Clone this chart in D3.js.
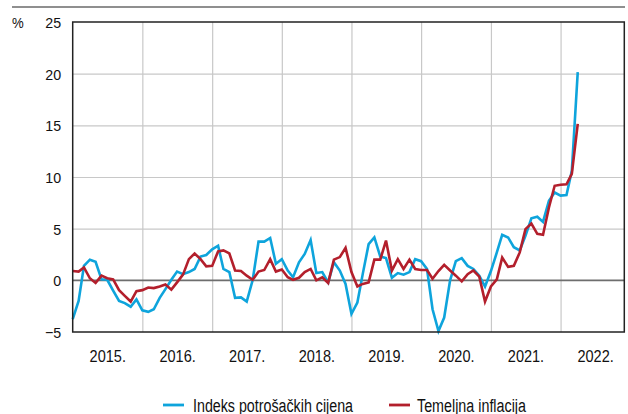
<!DOCTYPE html>
<html>
<head>
<meta charset="utf-8">
<script src="https://cdn.jsdelivr.net/npm/d3@7"></script>
<style>
    body { margin: 0; background: #fff; }
    #chart-area { width: 628px; height: 414px; }
    text { font-family: "Liberation Sans", Arial, sans-serif; fill: #111; }
</style>
</head>
<body>
<div id="chart-area"></div>
<script>

// first month of both series
let startMonth = new Date(2015, 0, 1);

// Indeks potrošačkih cijena, monthly, Jan 2015 - Apr 2022
let cpiValues = [
    -3.75, -2.0, 1.4, 2.0, 1.8, 0.1, 0.05, -1.0, -2.0, -2.2, -2.55, -1.85,
    -2.9, -3.05, -2.8, -1.7, -0.85, 0.05, 0.85, 0.6, 0.8, 1.1, 2.3, 2.45,
    3.0, 3.35, 1.1, 0.8, -1.7, -1.65, -2.05, 0.0, 3.75, 3.75, 4.1, 1.6,
    2.05, 0.95, 0.3, 1.75, 2.55, 3.9, 0.7, 0.8, -0.2, 1.75, 0.95, -0.35,
    -3.25, -2.15, 0.6, 3.5, 4.15, 2.3, 2.15, 0.25, 0.7, 0.55, 0.8, 2.05,
    1.85, 1.1, -2.8, -4.9, -3.6, 0.0, 1.85, 2.15, 1.4, 1.1, 0.45, -0.6,
    0.9, 2.7, 4.4, 4.15, 3.2, 2.9, 4.3, 6.0, 6.15, 5.65, 7.7, 8.5,
    8.2, 8.25, 10.6, 20.15
];

// Temeljna inflacija, monthly, Jan 2015 - Apr 2022
let coreValues = [
    0.9, 0.85, 1.25, 0.2, -0.25, 0.45, 0.2, 0.1, -0.95, -1.5, -2.05, -1.05,
    -0.95, -0.7, -0.75, -0.6, -0.4, -0.9, -0.2, 0.55, 2.05, 2.6, 2.05, 1.35,
    1.4, 2.8, 2.9, 2.6, 0.95, 0.9, 0.45, 0.05, 0.85, 1.0, 2.05, 0.85,
    1.05, 0.3, 0.05, 0.25, 0.8, 1.1, 0.0, 0.3, -0.25, 2.0, 2.25, 3.15,
    0.8, -0.6, -0.35, -0.2, 2.0, 2.0, 3.85, 0.95, 2.05, 1.1, 2.0, 1.1,
    1.0, 1.0, 0.15, 0.9, 1.5, 0.95, 0.45, -0.1, 0.6, 0.95, 0.35, -2.05,
    -0.6, 0.1, 2.2, 1.3, 1.4, 2.7, 4.95, 5.5, 4.5, 4.4, 7.05, 9.15,
    9.25, 9.3, 10.3, 15.15
];

let years = [2015, 2016, 2017, 2018, 2019, 2020, 2021, 2022];
let yTicks = [-5, 0, 5, 10, 15, 20, 25];
let seriesNames = ["Indeks potrošačkih cijena", "Temeljna inflacija"];
let seriesColors = ["#0ea4dc", "#b31f2c"];


// squeeze text horizontally, the original uses a condensed face
function condense(selection, factor) {
    selection.each(function() {
        let len = this.getComputedTextLength();
        d3.select(this)
            .attr("textLength", len * factor)
            .attr("lengthAdjust", "spacingAndGlyphs");
    });
}


class LineVis {

    constructor(parentElement) {
        this.parentElement = parentElement;
        this.initVis();
    }

    initVis() {
        let vis = this;

        vis.margin = {top: 22, right: 3.7, bottom: 82, left: 72.7};
        vis.width = 628 - vis.margin.left - vis.margin.right;
        vis.height = 414 - vis.margin.top - vis.margin.bottom;

        vis.root = d3.select("#" + vis.parentElement).append("svg")
            .attr("width", 628)
            .attr("height", 414);

        // thin rule on top of the figure
        vis.root.append("line")
            .attr("x1", 12).attr("x2", 625)
            .attr("y1", 7).attr("y2", 7)
            .attr("stroke", "#6a6a6a")
            .attr("stroke-width", 1.3);

        vis.svg = vis.root.append("g")
            .attr("transform", `translate(${vis.margin.left}, ${vis.margin.top})`);

        // scales
        vis.x = d3.scaleTime()
            .domain([new Date(2015, 0, 1), new Date(2022, 11, 1)])
            .range([0, vis.width]);

        vis.y = d3.scaleLinear()
            .domain([-5, 25])
            .range([vis.height, 0]);

        vis.wrangleData();
    }

    wrangleData() {
        let vis = this;

        vis.series = [cpiValues, coreValues].map((values, k) => ({
            name: seriesNames[k],
            color: seriesColors[k],
            values: values.map((v, i) => ({date: d3.timeMonth.offset(startMonth, i), value: v}))
        }));

        vis.updateVis();
    }

    updateVis() {
        let vis = this;

        // horizontal grid
        vis.svg.append("g")
            .attr("class", "grid y-grid")
            .call(d3.axisLeft(vis.y).tickValues(yTicks.filter(d => d > 0 && d < 25)).tickSize(-vis.width).tickFormat(""))
            .call(g => g.select(".domain").remove())
            .call(g => g.selectAll("line").attr("stroke", "#c8c8c8").attr("stroke-width", 1.2));

        // vertical grid at year boundaries
        vis.svg.append("g")
            .attr("class", "grid x-grid")
            .attr("transform", `translate(0, ${vis.height})`)
            .call(d3.axisBottom(vis.x).tickValues(years.slice(1).map(y => new Date(y, 0, 1))).tickSize(-vis.height).tickFormat(""))
            .call(g => g.select(".domain").remove())
            .call(g => g.selectAll("line").attr("stroke", "#c8c8c8").attr("stroke-width", 1.2));

        // zero line
        vis.svg.append("line")
            .attr("x1", 0).attr("x2", vis.width)
            .attr("y1", vis.y(0)).attr("y2", vis.y(0))
            .attr("stroke", "#6e6e6e")
            .attr("stroke-width", 1.8);

        // y labels
        vis.svg.append("g")
            .attr("class", "y-axis axis")
            .attr("transform", "translate(-11.5, 0)")
            .call(d3.axisLeft(vis.y).tickValues(yTicks).tickSize(0).tickPadding(0)
                .tickFormat(d => d < 0 ? "\u2212" + Math.abs(d) : d))
            .call(g => g.select(".domain").remove())
            .call(g => g.selectAll("text").attr("font-size", 15.5).attr("fill", "#111").attr("dy", "0.36em")
                .style("font-family", null).call(condense, 0.92));

        vis.root.append("text")
            .attr("x", 12)
            .attr("y", 28)
            .attr("font-size", 15.5)
            .text("%")
            .call(condense, 0.85);

        // year labels at mid year
        vis.svg.append("g")
            .attr("class", "x-axis axis")
            .attr("transform", `translate(0, ${vis.height})`)
            .call(d3.axisBottom(vis.x).tickValues(years.map(y => new Date(y, 6, 1))).tickSize(0).tickPadding(0)
                .tickFormat(d => d.getFullYear() + "."))
            .call(g => g.select(".domain").remove())
            .call(g => g.selectAll("text").attr("font-size", 16.5).attr("fill", "#111").attr("y", 30).attr("dy", null)
                .style("font-family", null).call(condense, 0.88));

        // lines
        let line = d3.line()
            .x(d => vis.x(d.date))
            .y(d => vis.y(d.value));

        vis.svg.selectAll(".series")
            .data(vis.series)
            .enter()
            .append("path")
            .attr("class", "series")
            .attr("fill", "none")
            .attr("stroke", d => d.color)
            .attr("stroke-width", 2.6)
            .attr("stroke-linejoin", "miter")
            .attr("d", d => line(d.values));

        // frame
        vis.svg.append("rect")
            .attr("width", vis.width)
            .attr("height", vis.height)
            .attr("fill", "none")
            .attr("stroke", "#222")
            .attr("stroke-width", 1.5);

        // legend
        let legendX = [163, 389];
        let legendW = [160, 109];
        let legend = vis.root.selectAll(".legend")
            .data(vis.series)
            .enter()
            .append("g")
            .attr("class", "legend")
            .attr("transform", (d, i) => `translate(${legendX[i]}, 405)`);

        legend.append("line")
            .attr("x1", 0).attr("x2", 21)
            .attr("stroke", d => d.color)
            .attr("stroke-width", 2.8);

        legend.append("text")
            .attr("x", (d, i) => i === 0 ? 30 : 28)
            .attr("y", 6.5)
            .attr("font-size", 18)
            .attr("textLength", (d, i) => legendW[i])
            .attr("lengthAdjust", "spacingAndGlyphs")
            .text(d => d.name);
    }
}

let lineVis = new LineVis("chart-area");

</script>
</body>
</html>
